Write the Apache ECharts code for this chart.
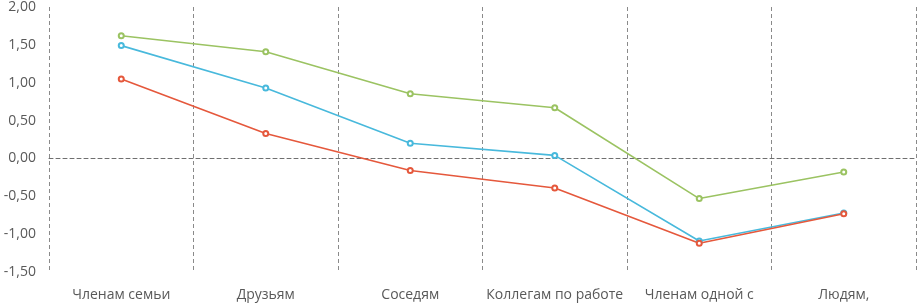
<!DOCTYPE html>
<html><head><meta charset="utf-8">
<script src="https://cdn.jsdelivr.net/npm/echarts@6/dist/echarts.min.js"></script>
<style>html,body{margin:0;padding:0;background:#fff}#c{width:917px;height:304px}</style>
</head><body><div id="c"></div>
<script>
var categories = ['Членам семьи','Друзьям','Соседям','Коллегам по работе','Членам одной с','Людям,'];
var seriesGreen = [1.62, 1.41, 0.855, 0.67, -0.53, -0.18];
var seriesBlue = [1.49, 0.93, 0.20, 0.04, -1.09, -0.72];
var seriesRed = [1.05, 0.33, -0.16, -0.39, -1.12, -0.73];
var yTicks = {min: -1.5, max: 2, interval: 0.5};

var chart = echarts.init(document.getElementById('c'));
function mk(name, data, color){
  return {name:name, type:'line', data:data, symbol:'emptyCircle', symbolSize:5,
    lineStyle:{color:color, width:1.6}, itemStyle:{color:color, borderWidth:1.3}, z: 3};
}
chart.setOption({
  animation:false,
  grid:{left:49, right:1, top:7, bottom:32},
  xAxis:{type:'category', data:categories, boundaryGap:true,
    axisLine:{onZero:true, lineStyle:{color:'#6f6f6f', type:[4,3], width:1}},
    axisTick:{show:false},
    axisLabel:{interval:0, color:'#595959', fontFamily:'Open Sans', fontSize:14, margin:23, verticalAlign:'middle', lineHeight:18},
    splitLine:{show:true, lineStyle:{color:'#8a8a8a', type:[4,3], width:1}}
  },
  yAxis:{type:'value', min:yTicks.min, max:yTicks.max, interval:yTicks.interval,
    axisLine:{show:false}, axisTick:{show:false}, splitLine:{show:false},
    axisLabel:{color:'#595959', fontFamily:'Open Sans', fontSize:14, margin:13,
      formatter:function(v){return v.toFixed(2).replace('.', ',');}}
  },
  series:[mk('green', seriesGreen, '#9bc362'), mk('blue', seriesBlue, '#48b9dc'), mk('red', seriesRed, '#e5583c')]
});
</script></body></html>
